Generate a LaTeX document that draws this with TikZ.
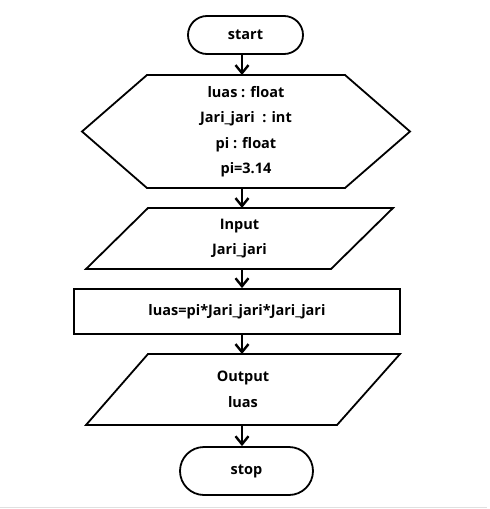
\documentclass[tikz,border=0pt]{standalone}
\usepackage{fontspec}
\setmainfont{Open Sans}
\usetikzlibrary{arrows.meta,shapes.misc}
\begin{document}
\begin{tikzpicture}[x=1pt,y=-1pt,
  every node/.style={font=\bfseries\fontsize{14.5}{25.5}\selectfont, align=center},
  term/.style={rounded rectangle, draw, line width=1.8pt, inner sep=0pt},
  box/.style={inner sep=0pt, outer sep=0pt},
  shapeline/.style={line width=1.8pt, line join=miter},
  arr/.style={line width=2.2pt, -{Straight Barb[length=8pt,width=13pt,line width=2.4pt]}}]
\useasboundingbox (0,0) rectangle (490,509);
\draw[black!12, line width=1pt] (0,507) -- (487,507);
\coordinate (ax) at (242,0);

\node[term, minimum width=115pt, minimum height=38pt] (start) at (245.5,35) {start};

\node[box, minimum width=328pt, minimum height=113pt] (decl) at (246,131.5)
  {luas : float\\Jari\_jari\ \ : int\\pi : float\\pi=3.14};
\draw[shapeline] (decl.west) -- ([xshift=65pt]decl.north west) -- ([xshift=-65pt]decl.north east)
  -- (decl.east) -- ([xshift=-65pt]decl.south east) -- ([xshift=65pt]decl.south west) -- cycle;

\node[box, minimum width=307pt, minimum height=61pt] (inp) at (239.5,238.5) {Input\\Jari\_jari};
\draw[shapeline] ([xshift=62pt]inp.north west) -- (inp.north east)
  -- ([xshift=-62pt]inp.south east) -- (inp.south west) -- cycle;

\node[draw, line width=1.8pt, inner sep=0pt, minimum width=326pt, minimum height=45pt] (proc) at (237,311.5)
  {luas=pi*Jari\_jari*Jari\_jari};

\node[box, minimum width=314pt, minimum height=71pt] (outp) at (243,389.5) {Output\\luas};
\draw[shapeline] ([xshift=62pt]outp.north west) -- (outp.north east)
  -- ([xshift=-63pt]outp.south east) -- (outp.south west) -- cycle;

\node[term, minimum width=133pt, minimum height=48pt] (stop) at (246.5,471) {stop};

\draw[arr] (start.south -| ax) -- (decl.north -| ax);
\draw[arr] (decl.south -| ax) -- (inp.north -| ax);
\draw[arr] (inp.south -| ax) -- (proc.north -| ax);
\draw[arr] (proc.south -| ax) -- (outp.north -| ax);
\draw[arr] (outp.south -| ax) -- (stop.north -| ax);
\end{tikzpicture}
\end{document}
